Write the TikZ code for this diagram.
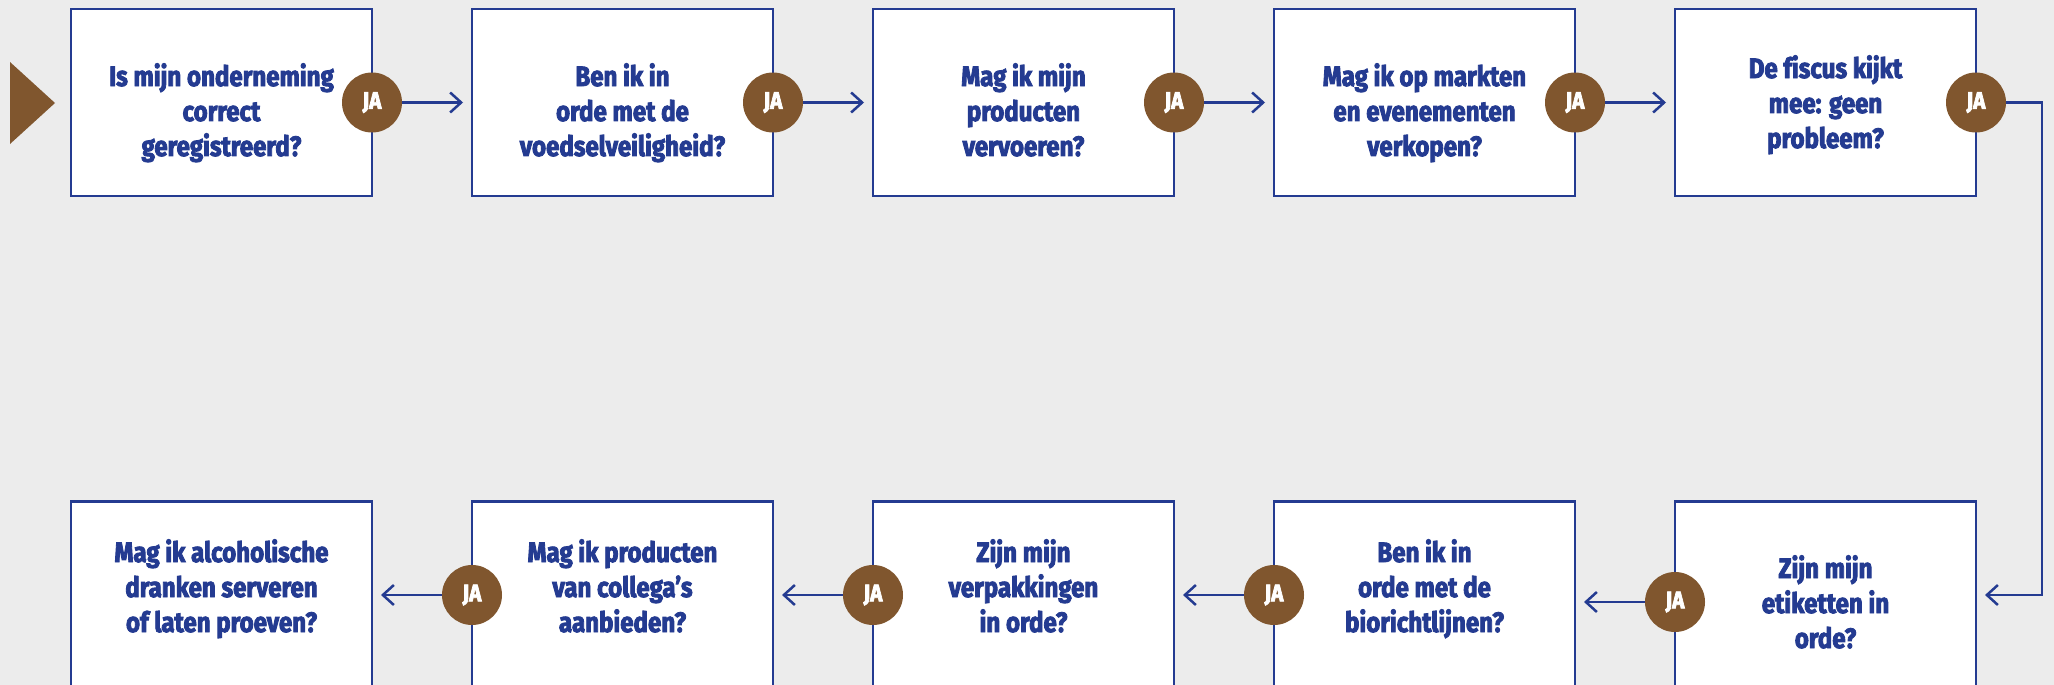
\documentclass[tikz,border=0pt]{standalone}
\usepackage{fontspec}
\setmainfont{Fira Sans}
\newfontfamily\boxfont{Fira Sans}[UprightFont={* Bold},FakeStretch=0.86,FakeBold=3,Ligatures=NoCommon]
\usetikzlibrary{arrows.meta}
\definecolor{qblue}{RGB}{36,59,145}
\definecolor{qbrown}{RGB}{128,86,46}
\definecolor{qbg}{RGB}{236,236,236}
\tikzset{
 qbox/.style={draw=qblue, line width=2.5pt, fill=white, minimum width=301pt, minimum height=187pt, inner sep=0pt, outer sep=0pt},
 qtext/.style={text=qblue, font=\boxfont\fontsize{28}{35}\selectfont, inner sep=0pt, anchor=base},
 ja/.style={circle, fill=qbrown, minimum size=60pt, inner sep=0pt, text=white, font=\boxfont\fontsize{24}{26}\selectfont},
 arr/.style={draw=qblue, line width=2.5pt, -{Straight Barb[length=11pt,width=20pt]}},
}
\newcommand{\qlines}[1]{\begin{tabular}[t]{@{}c@{}}#1\end{tabular}}
\begin{document}
\begin{tikzpicture}[x=1pt,y=-1pt]
\useasboundingbox (0,0) rectangle (2054,685);
\fill[qbg] (0,0) rectangle (2054,685);
\clip (0,0) rectangle (2054,685);
% start marker
\fill[qbrown] (10,62) -- (10,144) -- (55,103) -- cycle;
% top row boxes
\node[qbox] (t1) at (221.5,102.5) {};
\node[qbox] (t2) at (622.5,102.5) {};
\node[qbox] (t3) at (1023.5,102.5) {};
\node[qbox] (t4) at (1424.5,102.5) {};
\node[qbox] (t5) at (1825.5,102.5) {};
% bottom row boxes
\node[qbox] (u1) at (221.5,595) {};
\node[qbox] (u2) at (622.5,595) {};
\node[qbox] (u3) at (1023.5,595) {};
\node[qbox] (u4) at (1424.5,595) {};
\node[qbox] (u5) at (1825.5,595) {};
% texts
\node[qtext] (t1x) at (221.5,86) {\qlines{Is mijn onderneming\\correct\\geregistreerd?}};
\node[qtext] (t2x) at (622.5,86) {\qlines{Ben ik in\\orde met de\\voedselveiligheid?}};
\node[qtext] (t3x) at (1023.5,86) {\qlines{Mag ik mijn\\producten\\vervoeren?}};
\node[qtext] (t4x) at (1424.5,86) {\qlines{Mag ik op markten\\en evenementen\\verkopen?}};
\node[qtext] (t5x) at (1825.5,78) {\qlines{De f\kern0pt iscus kijkt\\mee: geen\\probleem?}};
\node[qtext] (u1x) at (221.5,562) {\qlines{Mag ik alcoholische\\dranken serveren\\of laten proeven?}};
\node[qtext] (u2x) at (622.5,562) {\qlines{Mag ik producten\\van collega’s\\aanbieden?}};
\node[qtext] (u3x) at (1023.5,562) {\qlines{Zijn mijn\\verpakkingen\\in orde?}};
\node[qtext] (u4x) at (1424.5,562) {\qlines{Ben ik in\\orde met de\\biorichtlijnen?}};
\node[qtext] (u5x) at (1825.5,578) {\qlines{Zijn mijn\\etiketten in\\orde?}};
% JA circles
\node[ja] (ja1) at (t1.east) {JA};
\node[ja] (ja2) at (t2.east) {JA};
\node[ja] (ja3) at (t3.east) {JA};
\node[ja] (ja4) at (t4.east) {JA};
\node[ja] (ja5) at (t5.east) {JA};
\node[ja] (jb2) at (u2.west) {JA};
\node[ja] (jb3) at (u3.west) {JA};
\node[ja] (jb4) at (u4.west) {JA};
\node[ja] (jb5) at (1675,602) {JA};
% connectors
\draw[arr] (ja1) -- ([xshift=-9pt]t2.west);
\draw[arr] (ja2) -- ([xshift=-9pt]t3.west);
\draw[arr] (ja3) -- ([xshift=-9pt]t4.west);
\draw[arr] (ja4) -- ([xshift=-9pt]t5.west);
\coordinate (rc) at (2042,595);
\draw[arr] (ja5.east) -| (rc) -- ([xshift=9pt]u5.east);
\draw[arr] (jb5) -- ([xshift=9pt]u4.east |- jb5);
\draw[arr] (jb4) -- ([xshift=9pt]u3.east);
\draw[arr] (jb3) -- ([xshift=9pt]u2.east);
\draw[arr] (jb2) -- ([xshift=9pt]u1.east);
\end{tikzpicture}
\end{document}
